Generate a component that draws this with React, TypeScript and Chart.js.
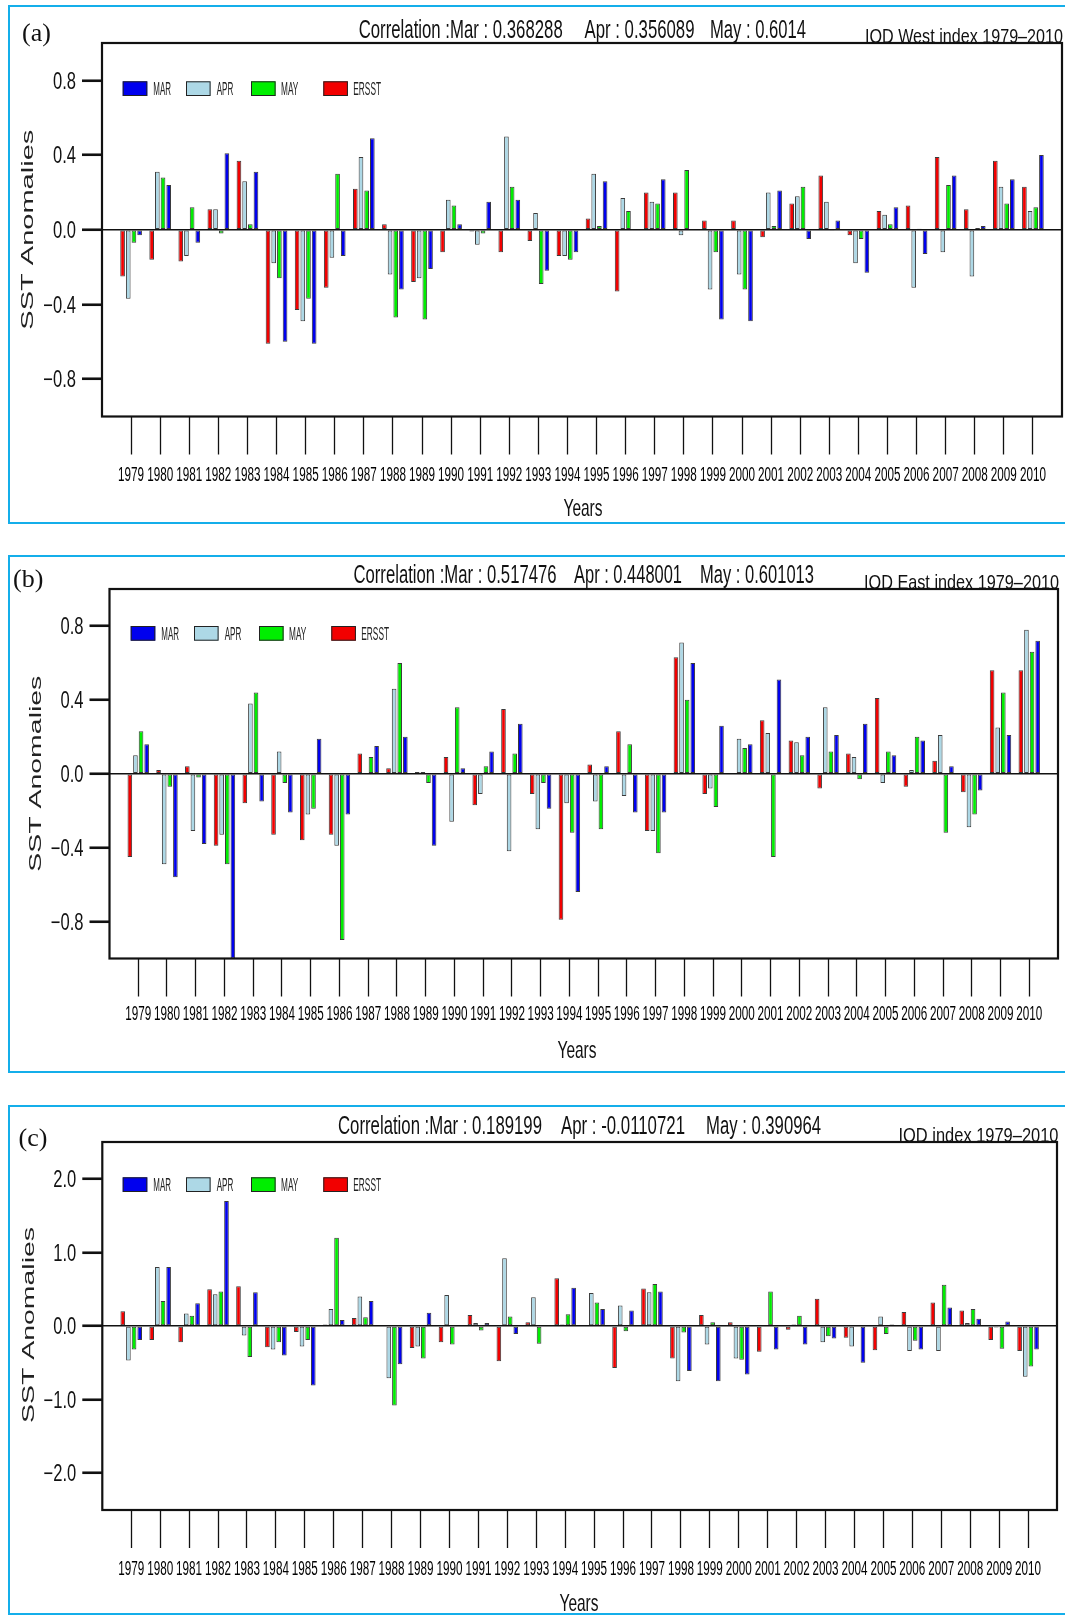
import React, { useEffect, useRef } from 'react';
import { Chart, registerables } from 'chart.js';

Chart.register(...registerables);

const SANS = '"Liberation Sans", Arial, Helvetica, sans-serif';
const SERIF = '"Liberation Serif", "Times New Roman", serif';
const PAGE_W = 1065;
const PAGE_H = 1616;

// ---------- data ----------
const YEARS = [
  '1979', '1980', '1981', '1982', '1983', '1984', '1985', '1986', '1987', '1988', '1989',
  '1990', '1991', '1992', '1993', '1994', '1995', '1996', '1997', '1998', '1999', '2000',
  '2001', '2002', '2003', '2004', '2005', '2006', '2007', '2008', '2009', '2010',
];

const SERIES_NAMES = ['MAR', 'APR', 'MAY', 'ERSST'];

// (a) IOD West index
const WEST_ERSST = [-0.25, -0.16, -0.17, 0.11, 0.37, -0.61, -0.43, -0.31, 0.22, 0.03, -0.28, -0.12, -0.01, -0.12, -0.06, -0.14, 0.06, -0.33, 0.2, 0.2, 0.05, 0.05, -0.04, 0.14, 0.29, -0.03, 0.1, 0.13, 0.39, 0.11, 0.37, 0.23];
const WEST_APR = [-0.37, 0.31, -0.14, 0.11, 0.26, -0.18, -0.49, -0.15, 0.39, -0.24, -0.26, 0.16, -0.08, 0.5, 0.09, -0.14, 0.3, 0.17, 0.15, -0.03, -0.32, -0.24, 0.2, 0.18, 0.15, -0.18, 0.08, -0.31, -0.12, -0.25, 0.23, 0.1];
const WEST_MAY = [-0.07, 0.28, 0.12, -0.02, 0.03, -0.26, -0.37, 0.3, 0.21, -0.47, -0.48, 0.13, -0.02, 0.23, -0.29, -0.16, 0.02, 0.1, 0.14, 0.32, -0.12, -0.32, 0.02, 0.23, -0.005, -0.05, 0.03, 0.005, 0.24, 0.01, 0.14, 0.12];
const WEST_MAR = [-0.03, 0.24, -0.07, 0.41, 0.31, -0.6, -0.61, -0.14, 0.49, -0.32, -0.21, 0.03, 0.15, 0.16, -0.22, -0.12, 0.26, 0.003, 0.27, 0.002, -0.48, -0.49, 0.21, -0.05, 0.05, -0.23, 0.12, -0.13, 0.29, 0.02, 0.27, 0.4];

// (b) IOD East index
const EAST_ERSST = [-0.45, 0.02, 0.04, -0.39, -0.16, -0.33, -0.36, -0.33, 0.11, 0.03, 0.01, 0.09, -0.17, 0.35, -0.11, -0.79, 0.05, 0.23, -0.31, 0.63, -0.11, 0.004, 0.29, 0.18, -0.08, 0.11, 0.41, -0.07, 0.07, -0.1, 0.56, 0.56];
const EAST_APR = [0.1, -0.49, -0.31, -0.33, 0.38, 0.12, -0.22, -0.39, -0.004, 0.46, 0.01, -0.26, -0.11, -0.42, -0.3, -0.16, -0.15, -0.12, -0.31, 0.71, -0.08, 0.19, 0.22, 0.17, 0.36, 0.09, -0.05, 0.02, 0.21, -0.29, 0.25, 0.78];
const EAST_MAY = [0.23, -0.07, -0.02, -0.49, 0.44, -0.05, -0.19, -0.9, 0.09, 0.6, -0.05, 0.36, 0.04, 0.11, -0.05, -0.32, -0.3, 0.16, -0.43, 0.4, -0.18, 0.14, -0.45, 0.1, 0.12, -0.03, 0.12, 0.2, -0.32, -0.22, 0.44, 0.66];
const EAST_MAR = [0.16, -0.56, -0.38, -1.0, -0.15, -0.21, 0.19, -0.22, 0.15, 0.2, -0.39, 0.03, 0.12, 0.27, -0.19, -0.64, 0.04, -0.21, -0.21, 0.6, 0.26, 0.16, 0.51, 0.2, 0.21, 0.27, 0.1, 0.18, 0.04, -0.09, 0.21, 0.72];

// (c) IOD index
const IOD_ERSST = [0.2, -0.19, -0.22, 0.5, 0.54, -0.29, -0.08, 0.02, 0.11, 0.0, -0.3, -0.22, 0.15, -0.48, 0.05, 0.65, 0.01, -0.57, 0.51, -0.44, 0.15, 0.05, -0.35, -0.05, 0.37, -0.16, -0.33, 0.19, 0.32, 0.21, -0.19, -0.34];
const IOD_APR = [-0.47, 0.8, 0.17, 0.43, -0.13, -0.32, -0.28, 0.23, 0.4, -0.71, -0.28, 0.42, 0.04, 0.92, 0.39, 0.02, 0.45, 0.28, 0.46, -0.75, -0.25, -0.44, -0.01, 0.02, -0.22, -0.28, 0.13, -0.34, -0.34, 0.04, -0.02, -0.69];
const IOD_MAY = [-0.32, 0.34, 0.14, 0.47, -0.42, -0.22, -0.19, 1.2, 0.12, -1.08, -0.44, -0.25, -0.06, 0.13, -0.24, 0.16, 0.32, -0.07, 0.57, -0.09, 0.05, -0.46, 0.47, 0.14, -0.14, -0.01, -0.11, -0.2, 0.56, 0.23, -0.31, -0.55];
const IOD_MAR = [-0.19, 0.8, 0.31, 1.7, 0.46, -0.4, -0.81, 0.08, 0.34, -0.52, 0.18, 0.0, 0.04, -0.11, -0.01, 0.52, 0.23, 0.21, 0.47, -0.61, -0.75, -0.66, -0.32, -0.25, -0.17, -0.5, 0.02, -0.32, 0.25, 0.1, 0.06, -0.32];

// axis ticks
const SMALL_Y_TICKS = [-0.8, -0.4, 0, 0.4, 0.8];
const SMALL_Y_LABELS = ['\u22120.8', '\u22120.4', '0.0', '0.4', '0.8'];
const LARGE_Y_TICKS = [-2, -1, 0, 1, 2];
const LARGE_Y_LABELS = ['\u22122.0', '\u22121.0', '0.0', '1.0', '2.0'];

// header texts
const WEST_CORR = ['Correlation :Mar : 0.368288', 'Apr : 0.356089', 'May : 0.6014'];
const EAST_CORR = ['Correlation :Mar : 0.517476', 'Apr : 0.448001', 'May : 0.601013'];
const IOD_CORR = ['Correlation :Mar : 0.189199', 'Apr : -0.0110721', 'May : 0.390964'];

// ---------- styles ----------
const COL_MAR = '#0000ee';
const COL_APR = '#add8e6';
const COL_MAY = '#00ee00';
const COL_ERSST = '#f20000';
const EDGE = 'rgba(25,25,25,0.85)';
const FRAME = '#14aeea';

type Box = { l: number; r: number; t: number; b: number };
type PanelCfg = {
  id: string;
  canvasTop: number;
  canvasH: number;
  box: Box;
  yMin: number;
  yMax: number;
  yTicks: number[];
  yLabels: string[];
  mar: number[];
  apr: number[];
  may: number[];
  ersst: number[];
  letter: string;
  letterX: number;
  letterCy: number;
  corr: string[];
  corrX: number[];
  corrW: number[];
  corrCy: number;
  title: string;
  titleRight: number;
  titleW: number;
  titleBase: number;
  yearCy: number;
  yearsCx: number;
  yearsCy: number;
  ytCx: number;
  ytCy: number;
  ytW: number;
  legX: number;
  legY: number;
  frameTop: number;
  frameBottom: number;
};

const PANELS: PanelCfg[] = [
  {
    id: 'a', canvasTop: 0, canvasH: 540,
    box: { l: 102, r: 1062, t: 43, b: 416.5 },
    yMin: -1, yMax: 1, yTicks: SMALL_Y_TICKS, yLabels: SMALL_Y_LABELS,
    mar: WEST_MAR, apr: WEST_APR, may: WEST_MAY, ersst: WEST_ERSST,
    letter: '(a)', letterX: 22, letterCy: 34.5,
    corr: WEST_CORR, corrX: [358.7, 584.5, 710], corrW: [204, 110, 96], corrCy: 29,
    title: 'IOD West index 1979\u20132010', titleRight: 1063, titleW: 198, titleBase: 42.5,
    yearCy: 474, yearsCx: 583, yearsCy: 507,
    ytCx: 27.5, ytCy: 229.7, ytW: 200,
    legX: 122.7, legY: 81.3,
    frameTop: 5, frameBottom: 524,
  },
  {
    id: 'b', canvasTop: 540, canvasH: 545,
    box: { l: 109.5, r: 1058, t: 589, b: 958.5 },
    yMin: -1, yMax: 1, yTicks: SMALL_Y_TICKS, yLabels: SMALL_Y_LABELS,
    mar: EAST_MAR, apr: EAST_APR, may: EAST_MAY, ersst: EAST_ERSST,
    letter: '(b)', letterX: 13, letterCy: 581,
    corr: EAST_CORR, corrX: [353.5, 574, 700], corrW: [203, 108, 114], corrCy: 574,
    title: 'IOD East index 1979\u20132010', titleRight: 1059, titleW: 195, titleBase: 588.5,
    yearCy: 1013.5, yearsCx: 577, yearsCy: 1049,
    ytCx: 35, ytCy: 773.7, ytW: 196,
    legX: 130.7, legY: 626,
    frameTop: 555, frameBottom: 1073,
  },
  {
    id: 'c', canvasTop: 1085, canvasH: 531,
    box: { l: 102.3, r: 1057, t: 1142, b: 1510 },
    yMin: -2.5, yMax: 2.5, yTicks: LARGE_Y_TICKS, yLabels: LARGE_Y_LABELS,
    mar: IOD_MAR, apr: IOD_APR, may: IOD_MAY, ersst: IOD_ERSST,
    letter: '(c)', letterX: 18.5, letterCy: 1140,
    corr: IOD_CORR, corrX: [338, 561, 706], corrW: [204, 124, 115], corrCy: 1125.4,
    title: 'IOD index 1979\u20132010', titleRight: 1058.5, titleW: 160, titleBase: 1142,
    yearCy: 1568, yearsCx: 579, yearsCy: 1602.6,
    ytCx: 28, ytCy: 1325, ytW: 196,
    legX: 122.7, legY: 1177.3,
    frameTop: 1105, frameBottom: 1615,
  },
];

// legend layout (offsets from the legend origin)
const LEG_BOX_W = 24.6;
const LEG_BOX_H = 14.7;
const LEG_BOX_DX = [0, 63.3, 128.3, 200.6];
const LEG_TXT_DX = [30.6, 94, 158.3, 230.6];
const LEG_TXT_W = [17.7, 16.6, 17.3, 27.7];

type TextOpts = {
  size: number;
  family?: string;
  align?: CanvasTextAlign;
  w?: number;
  sx?: number;
  rot?: boolean;
  color?: string;
};

function drawText(ctx: CanvasRenderingContext2D, s: string, x: number, y: number, o: TextOpts) {
  ctx.save();
  ctx.font = `${o.size}px ${o.family ?? SANS}`;
  ctx.fillStyle = o.color ?? '#111';
  ctx.textBaseline = 'alphabetic';
  ctx.textAlign = o.align ?? 'left';
  const mw = ctx.measureText(s).width || 1;
  const sx = o.w ? o.w / mw : o.sx ?? 1;
  ctx.translate(x, y);
  if (o.rot) ctx.rotate(-Math.PI / 2);
  ctx.scale(sx, 1);
  ctx.fillText(s, 0, 0);
  ctx.restore();
}

function makePlugin(cfg: PanelCfg) {
  const py = (v: number) => v - cfg.canvasTop;
  return {
    id: 'nclDecor' + cfg.id,
    afterDraw(chart: any) {
      const ctx: CanvasRenderingContext2D = chart.ctx;
      const ca = chart.chartArea;
      const xs = chart.scales.x;
      const ys = chart.scales.y;

      // plot frame
      ctx.save();
      ctx.strokeStyle = '#111';
      ctx.lineWidth = 2.2;
      ctx.strokeRect(ca.left, ca.top, ca.right - ca.left, ca.bottom - ca.top);
      ctx.restore();

      // y tick labels
      cfg.yTicks.forEach((v, i) => {
        const y = ys.getPixelForValue(v);
        drawText(ctx, cfg.yLabels[i], ca.left - 26, y + 0.358 * 23, { size: 23, sx: 0.72, align: 'right' });
      });

      // x tick labels
      const labels: string[] = chart.data.labels;
      for (let i = 1; i < labels.length - 1; i++) {
        const x = xs.getPixelForTick(i);
        drawText(ctx, labels[i], x, py(cfg.yearCy) + 0.358 * 19.5, { size: 19.5, sx: 0.6, align: 'center', color: '#000' });
      }

      // axis titles
      drawText(ctx, 'Years', cfg.yearsCx, py(cfg.yearsCy) + 0.358 * 24, { size: 24, w: 39, align: 'center' });
      drawText(ctx, 'SST Anomalies', cfg.ytCx + 0.358 * 16.5, py(cfg.ytCy), {
        size: 16.5, w: cfg.ytW, align: 'center', rot: true, color: '#222',
      });

      // header
      cfg.corr.forEach((s, i) => {
        drawText(ctx, s, cfg.corrX[i], py(cfg.corrCy) + 0.358 * 25, { size: 25, w: cfg.corrW[i], align: 'left' });
      });
      drawText(ctx, cfg.title, cfg.titleRight, py(cfg.titleBase), { size: 21, w: cfg.titleW, align: 'right' });
      drawText(ctx, cfg.letter, cfg.letterX, py(cfg.letterCy) + 6, { size: 26, family: SERIF, align: 'left' });

      // legend (MAR, APR, MAY, ERSST)
      const order = ['MAR', 'APR', 'MAY', 'ERSST'];
      order.forEach((name, k) => {
        const ds = chart.data.datasets.find((d: any) => d.label === name);
        const bx = cfg.legX + LEG_BOX_DX[k];
        const by = py(cfg.legY);
        ctx.save();
        ctx.fillStyle = ds.backgroundColor;
        ctx.fillRect(bx, by, LEG_BOX_W, LEG_BOX_H);
        ctx.strokeStyle = '#222';
        ctx.lineWidth = 1;
        ctx.strokeRect(bx + 0.5, by + 0.5, LEG_BOX_W - 1, LEG_BOX_H - 1);
        ctx.restore();
        drawText(ctx, SERIES_NAMES[SERIES_NAMES.indexOf(name)], cfg.legX + LEG_TXT_DX[k], by + LEG_BOX_H / 2 + 0.358 * 18.5, {
          size: 18.5, w: LEG_TXT_W[k], align: 'left', color: '#222',
        });
      });
    },
  };
}

function pad(arr: number[]) {
  return [null, ...arr, null];
}

function buildConfig(cfg: PanelCfg): any {
  const common = {
    borderColor: EDGE,
    borderWidth: 1,
    borderSkipped: false,
    categoryPercentage: 0.78,
    barPercentage: 0.82,
  };
  const nLabels = YEARS.length + 2;
  return {
    type: 'bar',
    data: {
      labels: ['', ...YEARS, ''],
      datasets: [
        { label: 'ERSST', data: pad(cfg.ersst), backgroundColor: COL_ERSST, ...common },
        { label: 'APR', data: pad(cfg.apr), backgroundColor: COL_APR, ...common },
        { label: 'MAY', data: pad(cfg.may), backgroundColor: COL_MAY, ...common },
        { label: 'MAR', data: pad(cfg.mar), backgroundColor: COL_MAR, ...common },
      ],
    },
    options: {
      responsive: false,
      animation: false,
      devicePixelRatio: 1,
      events: [],
      layout: {
        padding: { left: 0, right: PAGE_W - cfg.box.r, top: cfg.box.t - cfg.canvasTop, bottom: 0 },
      },
      plugins: { legend: { display: false }, tooltip: { enabled: false }, title: { display: false } },
      scales: {
        x: {
          type: 'category',
          offset: false,
          border: { display: false },
          grid: {
            offset: false,
            drawOnChartArea: false,
            drawTicks: true,
            tickLength: 38,
            tickWidth: 1.3,
            tickColor: (c: any) => (c.index === 0 || c.index === nLabels - 1 ? 'rgba(0,0,0,0)' : '#111'),
          },
          ticks: { display: false, autoSkip: false },
          afterFit: (s: any) => {
            s.height = cfg.canvasH - (cfg.box.b - cfg.canvasTop);
          },
        },
        y: {
          type: 'linear',
          min: cfg.yMin,
          max: cfg.yMax,
          border: { display: false },
          grid: {
            color: (c: any) => (c.tick && c.tick.value === 0 ? '#111' : 'rgba(0,0,0,0)'),
            lineWidth: 1.5,
            drawTicks: true,
            tickLength: 20,
            tickWidth: 2.6,
            tickColor: '#111',
          },
          ticks: { display: false },
          afterBuildTicks: (s: any) => {
            s.ticks = cfg.yTicks.map((v) => ({ value: v }));
          },
          afterFit: (s: any) => {
            s.width = cfg.box.l;
          },
        },
      },
    },
    plugins: [makePlugin(cfg)],
  };
}

function Panel({ cfg }: { cfg: PanelCfg }) {
  const ref = useRef<HTMLCanvasElement>(null);
  useEffect(() => {
    const canvas = ref.current;
    if (!canvas) return;
    const chart = new Chart(canvas, buildConfig(cfg));
    return () => chart.destroy();
  }, [cfg]);
  return (
    <canvas
      ref={ref}
      width={PAGE_W}
      height={cfg.canvasH}
      style={{ position: 'absolute', left: 0, top: cfg.canvasTop, width: PAGE_W, height: cfg.canvasH }}
    />
  );
}

export default function App() {
  return (
    <div
      style={{
        position: 'absolute',
        left: 0,
        top: 0,
        width: PAGE_W,
        height: PAGE_H,
        overflow: 'hidden',
        background: '#fff',
      }}
    >
      {PANELS.map((p) => (
        <div
          key={'f' + p.id}
          style={{
            position: 'absolute',
            left: 8,
            top: p.frameTop,
            width: PAGE_W + 20,
            height: p.frameBottom - p.frameTop,
            border: `2.5px solid ${FRAME}`,
            boxSizing: 'border-box',
          }}
        />
      ))}
      {PANELS.map((p) => (
        <Panel key={p.id} cfg={p} />
      ))}
    </div>
  );
}
